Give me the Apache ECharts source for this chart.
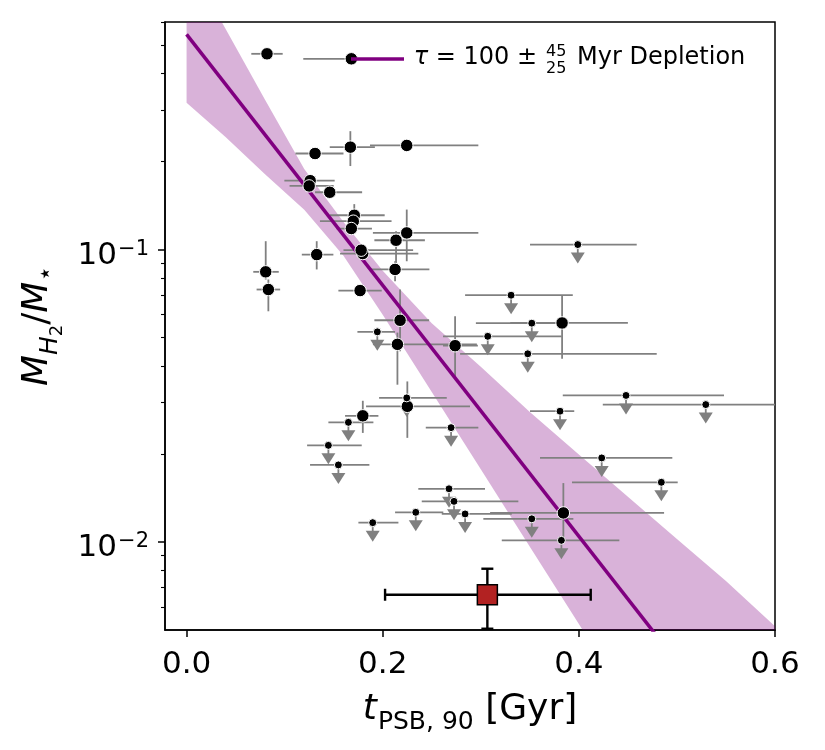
<!DOCTYPE html>
<html>
<head>
<meta charset="utf-8">
<script src="https://cdn.jsdelivr.net/npm/echarts@6/dist/echarts.min.js"></script>
<style>html,body{margin:0;padding:0;background:#fff}#c{width:825px;height:750px}</style>
</head>
<body>
<div id="c"></div>
<script>
const FONT = 'DejaVu Sans';
const GRAY = '#808080';

// ---- detections (x [Gyr], y = M_H2/M*, error bounds; null = no bar) ----
const detX   = [0.082, 0.168, 0.131, 0.167, 0.2245, 0.126, 0.125, 0.146, 0.171, 0.170, 0.168, 0.2245, 0.2136, 0.1327, 0.1796, 0.178, 0.0807, 0.0834, 0.2126, 0.1769, 0.2177, 0.2150, 0.2738, 0.2251, 0.1797, 0.3829, 0.3842];
const detY   = [0.467, 0.449, 0.213, 0.224, 0.227, 0.172, 0.165, 0.157, 0.131, 0.125, 0.118, 0.114, 0.1076, 0.0961, 0.0969, 0.0995, 0.0839, 0.0730, 0.0855, 0.0724, 0.0573, 0.0474, 0.0469, 0.0291, 0.0270, 0.0561, 0.01257];
const detXlo = [0.066, 0.119, 0.111, 0.146, 0.187, 0.0997, 0.105, 0.131, 0.146, 0.136, 0.153, 0.190, 0.1915, 0.1175, 0.1565, 0.160, 0.068, 0.0714, 0.187, 0.1548, 0.1915, 0.190, 0.2615, 0.183, 0.1616, 0.330, 0.3095];
const detXhi = [0.098, 0.217, 0.160, 0.192, 0.2975, 0.151, 0.150, 0.179, 0.202, 0.209, 0.189, 0.2975, 0.243, 0.1497, 0.2363, 0.231, 0.094, 0.0954, 0.2476, 0.199, 0.2473, 0.296, 0.297, 0.289, 0.1956, 0.450, 0.4869];
const detYlo = [null, null, null, 0.193, null, null, null, null, 0.115, null, null, 0.0912, 0.090, 0.0855, null, null, 0.079, 0.0615, 0.0779, null, 0.0449, 0.0345, 0.0369, 0.0227, 0.0236, 0.0423, 0.0099];
const detYhi = [null, null, null, 0.254, null, null, null, null, 0.143, null, null, 0.137, 0.1155, 0.1068, null, null, 0.1068, 0.079, 0.0912, null, 0.073, 0.052, 0.0591, 0.0354, 0.0304, 0.0698, 0.0159];

// ---- upper limits ----
const limX   = [0.1945, 0.2245, 0.3989, 0.3309, 0.352, 0.3071, 0.3479, 0.4481, 0.5294, 0.3808, 0.4233, 0.4841, 0.352, 0.3822, 0.284, 0.165, 0.2697, 0.1446, 0.1548, 0.2676, 0.2727, 0.2337, 0.1898];
const limY   = [0.0523, 0.0311, 0.104, 0.0698, 0.0560, 0.0505, 0.0440, 0.0317, 0.0295, 0.0280, 0.01938, 0.0160, 0.0120, 0.01013, 0.01247, 0.02565, 0.0246, 0.0214, 0.01834, 0.0152, 0.01377, 0.01263, 0.01164];
const limXlo = [0.1742, 0.1963, 0.3502, 0.284, 0.295, 0.2615, 0.2789, 0.3836, 0.4244, 0.3502, 0.3604, 0.393, 0.3026, 0.3214, 0.2602, 0.1446, 0.2439, 0.1229, 0.1259, 0.2363, 0.2398, 0.2126, 0.1752];
const limXhi = [0.2126, 0.2653, 0.459, 0.3938, 0.378, 0.3825, 0.4794, 0.548, 0.62, 0.3953, 0.4953, 0.5008, 0.3944, 0.4413, 0.3316, 0.1905, 0.2975, 0.1786, 0.1864, 0.3043, 0.3383, 0.2618, 0.216];

// ---- depletion fit (tau = 100 Myr) and its uncertainty band ----
const fitX = [0, 0.6];
const fitY = [0.544, 0.00145];
const bandX  = [0, 0.04, 0.08, 0.12, 0.16, 0.2, 0.25, 0.3, 0.35, 0.4, 0.45, 0.5, 0.55, 0.6];
const bandLo = [0.318, 0.242, 0.1808, 0.1367, 0.0953, 0.0599, 0.0326, 0.01772, 0.00964, 0.00524, 0.00285, 0.00155, 0.000843, 0.000459];
const bandHi = [0.974, 0.567, 0.3253, 0.1887, 0.1242, 0.0846, 0.0560, 0.0397, 0.0278, 0.01993, 0.01429, 0.01024, 0.00735, 0.00515];

// ---- typical uncertainty marker ----
const refX = [0.3067], refY = [0.0066], refXlo = [0.2024], refXhi = [0.4121], refYlo = [0.00505], refYhi = [0.0081];

// ---- ticks ----
const xTicks = [0, 0.2, 0.4, 0.6];
const yTicks = [0.01, 0.1];
const yMinorTicks = [0.006, 0.007, 0.008, 0.009, 0.02, 0.03, 0.04, 0.05, 0.06, 0.07, 0.08, 0.09, 0.2, 0.3, 0.4, 0.5, 0.6];

const errData = [];
detX.forEach((x, i) => errData.push([x, detY[i], detXlo[i], detXhi[i],
  detYlo[i] == null ? detY[i] : detYlo[i], detYhi[i] == null ? detY[i] : detYhi[i]]));
limX.forEach((x, i) => errData.push([x, limY[i], limXlo[i], limXhi[i], limY[i], limY[i]]));

function errRender(color, width, cap) {
  return function (params, api) {
    const x = api.value(0), y = api.value(1);
    const c = api.coord([x, y]);
    const l = api.coord([api.value(2), y]);
    const r = api.coord([api.value(3), y]);
    const b = api.coord([x, api.value(4)]);
    const t = api.coord([x, api.value(5)]);
    const st = { stroke: color, lineWidth: width };
    const ch = [{ type: 'line', shape: { x1: l[0], y1: c[1], x2: r[0], y2: c[1] }, style: st }];
    if (Math.abs(b[1] - t[1]) > 0.5) {
      ch.push({ type: 'line', shape: { x1: c[0], y1: b[1], x2: c[0], y2: t[1] }, style: st });
    }
    if (cap > 0) {
      ch.push({ type: 'line', shape: { x1: l[0], y1: c[1] - cap, x2: l[0], y2: c[1] + cap }, style: st });
      ch.push({ type: 'line', shape: { x1: r[0], y1: c[1] - cap, x2: r[0], y2: c[1] + cap }, style: st });
      ch.push({ type: 'line', shape: { x1: c[0] - cap, y1: b[1], x2: c[0] + cap, y2: b[1] }, style: st });
      ch.push({ type: 'line', shape: { x1: c[0] - cap, y1: t[1], x2: c[0] + cap, y2: t[1] }, style: st });
    }
    return { type: 'group', children: ch };
  };
}

const chart = echarts.init(document.getElementById('c'), null, { renderer: 'canvas' });
const fitName = 'τ = 100 ± Myr Depletion';

const option = {
  animation: false,
  backgroundColor: '#fff',
  textStyle: { fontFamily: FONT },
  grid: { left: 165, right: 50, top: 22, bottom: 120, show: true, borderColor: '#000', borderWidth: 1.5,
          containLabel: false, outerBoundsMode: 'none' },
  xAxis: {
    type: 'value', min: -0.022, max: 0.6,
    axisLine: { show: true, onZero: false, lineStyle: { color: '#000', width: 1.5 } },
    axisTick: { show: true, inside: false, length: 7, customValues: xTicks, lineStyle: { color: '#000', width: 1.5 } },
    axisLabel: { customValues: xTicks, margin: 19, fontSize: 31, color: '#000', fontFamily: FONT,
                 formatter: v => v.toFixed(1) },
    splitLine: { show: false },
    name: '{i|t}{s|PSB, 90}{n| [Gyr]}',
    nameLocation: 'middle', nameGap: 62,
    nameTextStyle: {
      color: '#000', fontFamily: FONT, fontSize: 36,
      rich: {
        i: { fontStyle: 'italic', fontSize: 36, lineHeight: 36, verticalAlign: 'top', fontFamily: FONT, color: '#000' },
        s: { fontSize: 25, lineHeight: 25, padding: [18, 0, 0, 1], verticalAlign: 'top', fontFamily: FONT, color: '#000' },
        n: { fontSize: 36, lineHeight: 36, verticalAlign: 'top', fontFamily: FONT, color: '#000' }
      }
    }
  },
  yAxis: [{
    type: 'log', logBase: 10, min: 0.005, max: 0.6,
    axisLine: { show: true, onZero: false, lineStyle: { color: '#000', width: 1.5 } },
    axisTick: { show: true, inside: false, length: 7, customValues: yTicks, lineStyle: { color: '#000', width: 1.5 } },
    axisLabel: {
      customValues: yTicks, margin: 16, color: '#000', fontFamily: FONT, fontSize: 31,
      formatter: v => '{b|10}{s|−' + Math.round(-Math.log10(v)) + '}',
      rich: {
        b: { fontSize: 31, lineHeight: 31, padding: [6, 0, 6, 0], verticalAlign: 'top', fontFamily: FONT, color: '#000' },
        s: { fontSize: 21, lineHeight: 21, padding: [5, 0, 0, 1], verticalAlign: 'top', fontFamily: FONT, color: '#000' }
      }
    },
    splitLine: { show: false },
    name: '{i|M}{s|H}{ss|2}{n|/}{i|M}{st|⋆}',
    nameLocation: 'middle', nameGap: 97, nameRotate: 90,
    nameTextStyle: {
      color: '#000', fontFamily: FONT, fontSize: 36,
      rich: {
        i: { fontStyle: 'italic', fontSize: 36, lineHeight: 36, verticalAlign: 'top', fontFamily: FONT, color: '#000' },
        s: { fontStyle: 'italic', fontSize: 25, lineHeight: 25, padding: [18, 0, 0, 0], verticalAlign: 'top', fontFamily: FONT, color: '#000' },
        ss: { fontSize: 18, lineHeight: 18, padding: [29, 0, 0, 0], verticalAlign: 'top', fontFamily: FONT, color: '#000' },
        n: { fontSize: 36, lineHeight: 36, verticalAlign: 'top', fontFamily: FONT, color: '#000' },
        st: { fontSize: 25, lineHeight: 25, padding: [14, 0, 0, 0], verticalAlign: 'top', fontFamily: FONT, color: '#000' }
      }
    }
  }, {
    type: 'log', logBase: 10, min: 0.005, max: 0.6, position: 'left', offset: 0,
    axisLine: { show: false, onZero: false },
    axisTick: { show: true, inside: false, length: 4, customValues: yMinorTicks, lineStyle: { color: '#000', width: 1.1 } },
    axisLabel: { show: false },
    splitLine: { show: false }
  }],
  legend: { show: false },
  series: [
    {
      name: 'band', type: 'custom', z: 1, silent: true, clip: true,
      data: [[0, 0.1]],
      renderItem: function (params, api) {
        const pts = [];
        for (let i = 0; i < bandX.length; i++) pts.push(api.coord([bandX[i], bandHi[i]]));
        for (let i = bandX.length - 1; i >= 0; i--) pts.push(api.coord([bandX[i], bandLo[i]]));
        const cs = params.coordSys;
        return {
          type: 'polygon', shape: { points: pts },
          style: { fill: 'rgba(128,0,128,0.3)' },
          clipPath: { type: 'rect', shape: { x: cs.x, y: cs.y, width: cs.width, height: cs.height } }
        };
      }
    },
    {
      name: 'errors', type: 'custom', z: 2, silent: true, clip: true,
      data: errData,
      encode: { x: 0, y: 1 },
      renderItem: errRender(GRAY, 1.8, 0)
    },
    {
      name: 'arrows', type: 'custom', z: 2, silent: true,
      data: limX.map((x, i) => [x, limY[i]]),
      renderItem: function (params, api) {
        const c = api.coord([api.value(0), api.value(1)]);
        return {
          type: 'group', children: [
            { type: 'line', shape: { x1: c[0], y1: c[1], x2: c[0], y2: c[1] + 10 }, style: { stroke: GRAY, lineWidth: 1.8 } },
            { type: 'polygon', shape: { points: [[c[0] - 7, c[1] + 8], [c[0] + 7, c[1] + 8], [c[0], c[1] + 19]] }, style: { fill: GRAY } }
          ]
        };
      }
    },
    {
      name: fitName, type: 'line', z: 3, clip: true, symbol: 'none',
      data: fitX.map((x, i) => [x, fitY[i]]),
      lineStyle: { color: '#800080', width: 3.5 }
    },
    {
      name: 'Detections', type: 'scatter', z: 4, symbol: 'circle', symbolSize: 12.5,
      data: detX.map((x, i) => [x, detY[i]]),
      itemStyle: { color: '#000', borderColor: '#fff', borderWidth: 1, opacity: 1 }
    },
    {
      name: 'Upper limits', type: 'scatter', z: 4, symbol: 'circle', symbolSize: 8,
      data: limX.map((x, i) => [x, limY[i]]),
      itemStyle: { color: '#000', borderColor: '#fff', borderWidth: 1, opacity: 1 }
    },
    {
      name: 'refErr', type: 'custom', z: 5, silent: true,
      data: refX.map((x, i) => [x, refY[i], refXlo[i], refXhi[i], refYlo[i], refYhi[i]]),
      encode: { x: 0, y: 1 },
      renderItem: errRender('#000', 2.4, 6)
    },
    {
      name: 'Typical uncertainty', type: 'scatter', z: 6, symbol: 'rect', symbolSize: 20,
      data: refX.map((x, i) => [x, refY[i]]),
      itemStyle: { color: '#B22222', borderColor: '#000', borderWidth: 1.5, opacity: 1 }
    }
  ],
  graphic: [
    { type: 'line', z: 100, shape: { x1: 351, y1: 59, x2: 404, y2: 59 }, style: { stroke: '#800080', lineWidth: 3.5 } },
    { type: 'text', z: 100, x: 537, y: 58, style: {
        text: '{i|τ} = 100 ±', fontSize: 24, fontFamily: FONT, fill: '#000', align: 'right', verticalAlign: 'middle',
        rich: { i: { fontStyle: 'italic', fontSize: 24, fontFamily: FONT, fill: '#000' } } } },
    { type: 'text', z: 100, x: 546, y: 52, style: { text: '45', fontSize: 16, fontFamily: FONT, fill: '#000', align: 'left', verticalAlign: 'middle' } },
    { type: 'text', z: 100, x: 546, y: 68.5, style: { text: '25', fontSize: 16, fontFamily: FONT, fill: '#000', align: 'left', verticalAlign: 'middle' } },
    { type: 'text', z: 100, x: 577, y: 58, style: { text: 'Myr Depletion', fontSize: 24, fontFamily: FONT, fill: '#000', align: 'left', verticalAlign: 'middle' } }
  ]
};
chart.setOption(option);
</script>
</body>
</html>
